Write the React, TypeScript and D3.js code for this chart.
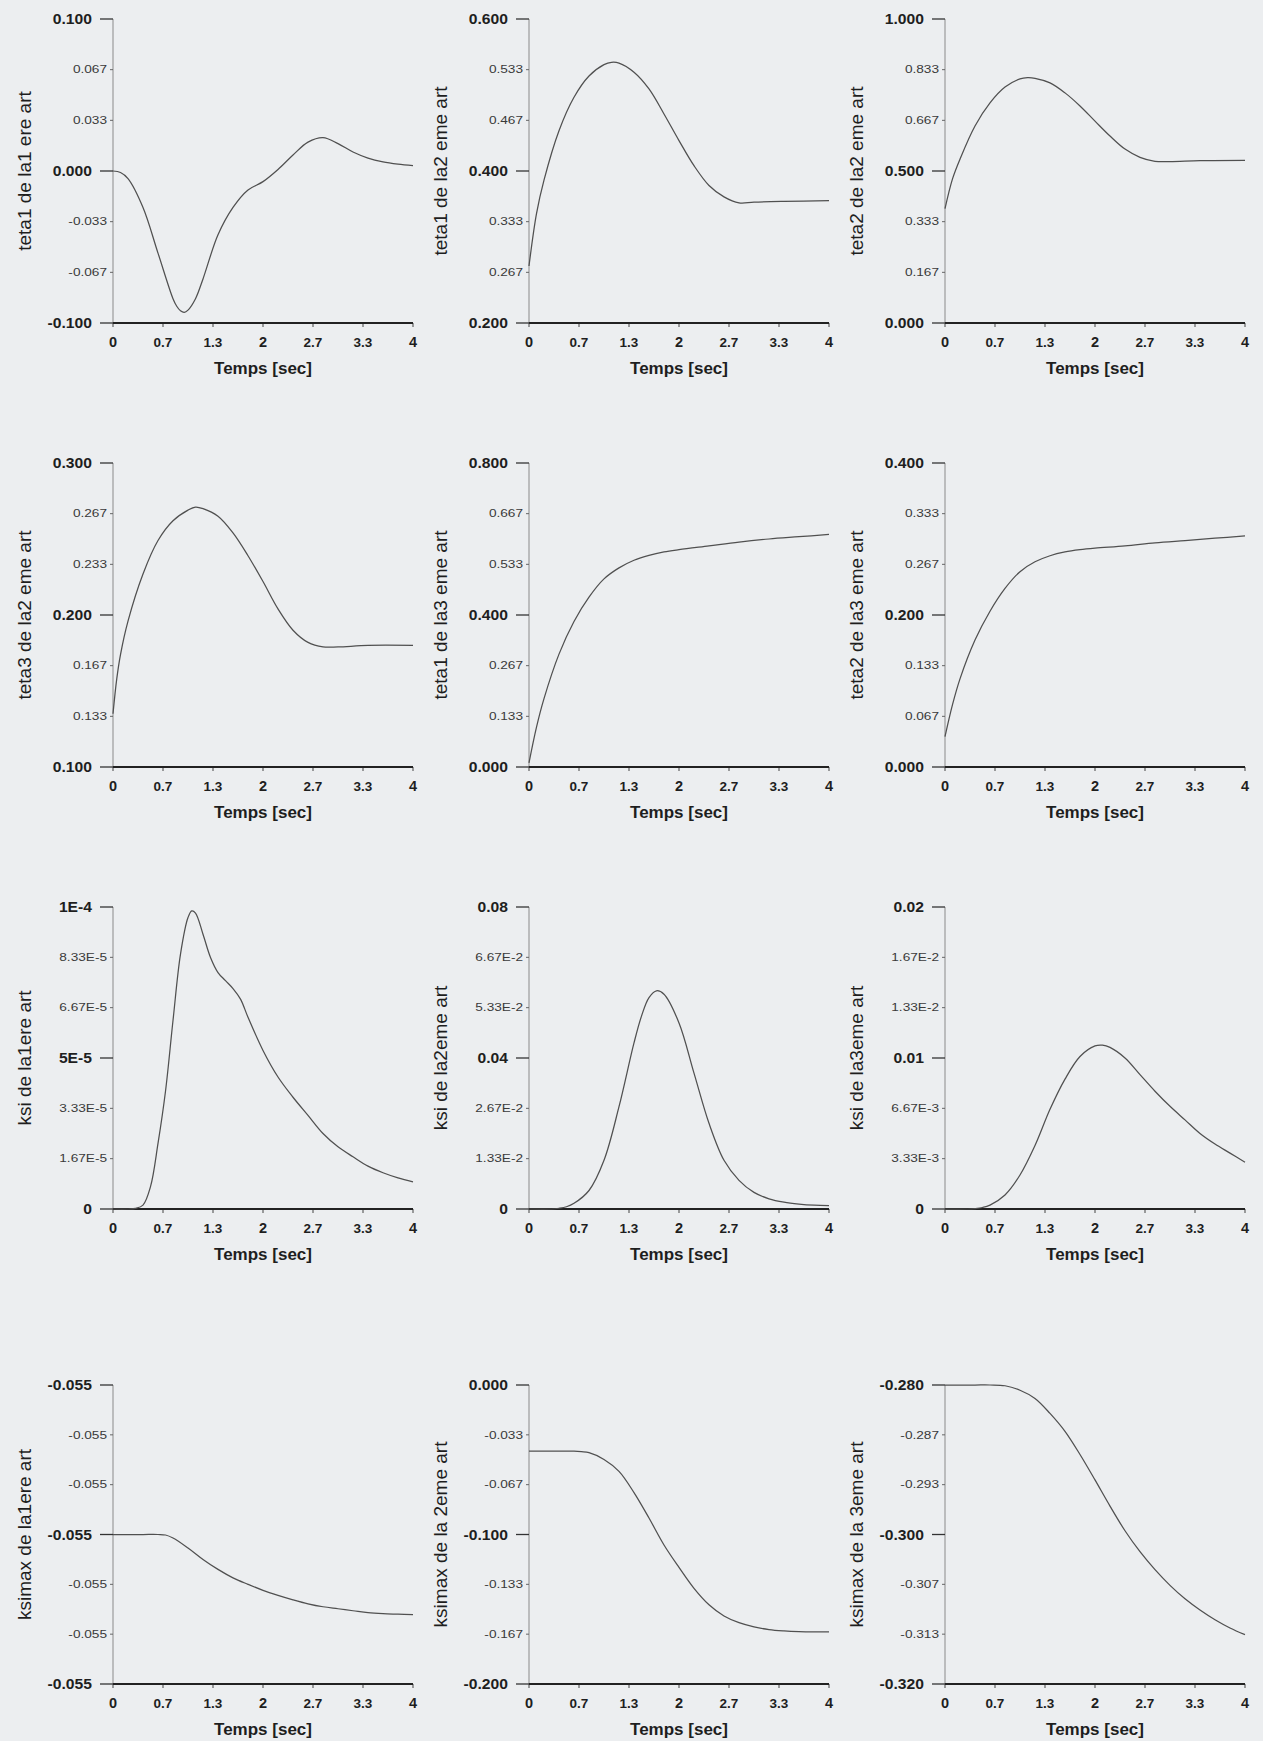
import React from 'react';
import * as d3 from 'd3';

// ---------- shared x axis ----------
const X_DOMAIN = [0, 4];
const X_TICKS = [0, 2 / 3, 4 / 3, 2, 8 / 3, 10 / 3, 4];
const X_TICK_LABELS = ['0', '0.7', '1.3', '2', '2.7', '3.3', '4'];
const X_TITLE = 'Temps [sec]';

// ---------- panel 1 ----------
const title1 = 'teta1 de la1 ere art';
const domain1 = [-0.1, 0.1];
const ticks1 = ['0.100', '0.067', '0.033', '0.000', '-0.033', '-0.067', '-0.100'];
const t1 = [0, 0.1, 0.2, 0.4, 0.6, 0.8, 0.85, 0.9, 0.95, 1.0, 1.1, 1.2, 1.4, 1.6, 1.8, 2.0, 2.2, 2.4, 2.6, 2.8, 3.0, 3.2, 3.4, 3.6, 3.8, 4.0];
const v1 = [0, -0.001, -0.005, -0.024, -0.054, -0.084, -0.089, -0.092, -0.093, -0.0915, -0.084, -0.071, -0.042, -0.024, -0.0125, -0.007, 0.001, 0.0105, 0.019, 0.022, 0.018, 0.0125, 0.0085, 0.006, 0.0045, 0.0035];

// ---------- panel 2 ----------
const title2 = 'teta1 de la2 eme art';
const domain2 = [0.2, 0.6];
const ticks2 = ['0.600', '0.533', '0.467', '0.400', '0.333', '0.267', '0.200'];
const t2 = [0, 0.1, 0.2, 0.4, 0.6, 0.8, 1.0, 1.1, 1.2, 1.4, 1.6, 1.8, 2.0, 2.2, 2.4, 2.6, 2.8, 3.0, 3.4, 4.0];
const v2 = [0.275, 0.344, 0.388, 0.453, 0.497, 0.525, 0.54, 0.543, 0.542, 0.53, 0.508, 0.475, 0.44, 0.407, 0.381, 0.366, 0.358, 0.359, 0.36, 0.361];

// ---------- panel 3 ----------
const title3 = 'teta2 de la2 eme art';
const domain3 = [0, 1];
const ticks3 = ['1.000', '0.833', '0.667', '0.500', '0.333', '0.167', '0.000'];
const t3 = [0, 0.1, 0.2, 0.4, 0.6, 0.8, 1.0, 1.1, 1.2, 1.4, 1.6, 1.8, 2.0, 2.2, 2.4, 2.6, 2.8, 3.0, 3.4, 4.0];
const v3 = [0.376, 0.474, 0.539, 0.648, 0.724, 0.776, 0.803, 0.807, 0.805, 0.79, 0.757, 0.714, 0.664, 0.615, 0.572, 0.545, 0.532, 0.531, 0.534, 0.535];

// ---------- panel 4 ----------
const title4 = 'teta3 de la2 eme art';
const domain4 = [0.1, 0.3];
const ticks4 = ['0.300', '0.267', '0.233', '0.200', '0.167', '0.133', '0.100'];
const t4 = [0, 0.05, 0.1, 0.2, 0.4, 0.6, 0.8, 1.0, 1.1, 1.2, 1.4, 1.6, 1.8, 2.0, 2.2, 2.4, 2.6, 2.8, 3.0, 3.4, 4.0];
const v4 = [0.135, 0.158, 0.174, 0.196, 0.227, 0.249, 0.262, 0.269, 0.271, 0.27, 0.265, 0.254, 0.239, 0.222, 0.204, 0.19, 0.182, 0.179, 0.179, 0.18, 0.18];

// ---------- panel 5 ----------
const title5 = 'teta1 de la3 eme art';
const domain5 = [0, 0.8];
const ticks5 = ['0.800', '0.667', '0.533', '0.400', '0.267', '0.133', '0.000'];
const t5 = [0, 0.1, 0.2, 0.4, 0.6, 0.8, 1.0, 1.2, 1.4, 1.6, 1.8, 2.0, 2.4, 2.8, 3.2, 3.6, 4.0];
const v5 = [0.011, 0.105, 0.18, 0.297, 0.383, 0.447, 0.495, 0.524, 0.544, 0.557, 0.566, 0.572, 0.582, 0.592, 0.6, 0.606, 0.612];

// ---------- panel 6 ----------
const title6 = 'teta2 de la3 eme art';
const domain6 = [0, 0.4];
const ticks6 = ['0.400', '0.333', '0.267', '0.200', '0.133', '0.067', '0.000'];
const t6 = [0, 0.1, 0.2, 0.4, 0.6, 0.8, 1.0, 1.2, 1.4, 1.6, 1.8, 2.0, 2.4, 2.8, 3.2, 3.6, 4.0];
const v6 = [0.04, 0.082, 0.116, 0.167, 0.205, 0.235, 0.257, 0.27, 0.278, 0.283, 0.286, 0.288, 0.291, 0.295, 0.298, 0.301, 0.304];

// ---------- panel 7 ----------
const title7 = 'ksi de la1ere art';
const domain7 = [0, 1e-4];
const ticks7 = ['1E-4', '8.33E-5', '6.67E-5', '5E-5', '3.33E-5', '1.67E-5', '0'];
const t7 = [0, 0.2, 0.3, 0.4, 0.5, 0.6, 0.7, 0.8, 0.9, 1.0, 1.05, 1.1, 1.2, 1.3, 1.4, 1.5, 1.6, 1.7, 1.8, 2.0, 2.2, 2.4, 2.6, 2.8, 3.0, 3.2, 3.4, 3.6, 3.8, 4.0];
const v7 = [0, 0, 0.2e-6, 1.3e-6, 7.4e-6, 2.17e-5, 3.9e-5, 6.24e-5, 8.44e-5, 9.65e-5, 9.87e-5, 9.8e-5, 9.1e-5, 8.33e-5, 7.83e-5, 7.56e-5, 7.3e-5, 6.95e-5, 6.35e-5, 5.25e-5, 4.37e-5, 3.7e-5, 3.1e-5, 2.5e-5, 2.06e-5, 1.73e-5, 1.42e-5, 1.2e-5, 1.03e-5, 9e-6];

// ---------- panel 8 ----------
const title8 = 'ksi de la2eme art';
const domain8 = [0, 0.08];
const ticks8 = ['0.08', '6.67E-2', '5.33E-2', '0.04', '2.67E-2', '1.33E-2', '0'];
const t8 = [0, 0.3, 0.4, 0.5, 0.6, 0.8, 1.0, 1.2, 1.4, 1.5, 1.6, 1.7, 1.8, 2.0, 2.2, 2.4, 2.6, 2.8, 3.0, 3.2, 3.4, 3.6, 3.8, 4.0];
const v8 = [0, 0, 0.0002, 0.0006, 0.0015, 0.0049, 0.0129, 0.0271, 0.044, 0.0511, 0.056, 0.0578, 0.0569, 0.0493, 0.036, 0.0227, 0.0129, 0.0076, 0.0044, 0.0027, 0.0018, 0.0013, 0.001, 0.0009];

// ---------- panel 9 ----------
const title9 = 'ksi de la3eme art';
const domain9 = [0, 0.02];
const ticks9 = ['0.02', '1.67E-2', '1.33E-2', '0.01', '6.67E-3', '3.33E-3', '0'];
const t9 = [0, 0.3, 0.4, 0.5, 0.6, 0.8, 1.0, 1.2, 1.4, 1.6, 1.8, 2.0, 2.1, 2.2, 2.4, 2.6, 2.8, 3.0, 3.2, 3.4, 3.6, 3.8, 4.0];
const v9 = [0, 0, 0.00003, 0.0001, 0.00026, 0.00093, 0.00225, 0.0042, 0.0066, 0.0086, 0.0101, 0.0108, 0.01085, 0.0107, 0.01, 0.0089, 0.0078, 0.0068, 0.0059, 0.005, 0.0043, 0.0037, 0.0031];

// ---------- panel 10 ----------
const title10 = 'ksimax de la1ere art';
const domain10 = [-0.0553, -0.0547];
const ticks10 = ['-0.055', '-0.055', '-0.055', '-0.055', '-0.055', '-0.055', '-0.055'];
const t10 = [0, 0.4, 0.6, 0.7, 0.8, 1.0, 1.2, 1.4, 1.6, 1.8, 2.0, 2.2, 2.4, 2.6, 2.8, 3.0, 3.2, 3.4, 3.6, 3.8, 4.0];
const v10 = [-0.055, -0.055, -0.055, -0.055001, -0.055007, -0.055027, -0.05505, -0.05507, -0.055087, -0.0551, -0.055112, -0.055122, -0.055131, -0.055139, -0.055145, -0.055149, -0.055153, -0.055157, -0.055159, -0.05516, -0.055161];

// ---------- panel 11 ----------
const title11 = 'ksimax de la 2eme art';
const domain11 = [-0.2, 0];
const ticks11 = ['0.000', '-0.033', '-0.067', '-0.100', '-0.133', '-0.167', '-0.200'];
const t11 = [0, 0.4, 0.6, 0.7, 0.8, 1.0, 1.2, 1.4, 1.6, 1.8, 2.0, 2.2, 2.4, 2.6, 2.8, 3.0, 3.2, 3.4, 3.6, 3.8, 4.0];
const v11 = [-0.0442, -0.0442, -0.0442, -0.0446, -0.0453, -0.0498, -0.0578, -0.072, -0.089, -0.107, -0.122, -0.136, -0.147, -0.1545, -0.159, -0.1618, -0.1636, -0.1645, -0.165, -0.1652, -0.1652];

// ---------- panel 12 ----------
const title12 = 'ksimax de la 3eme art';
const domain12 = [-0.32, -0.28];
const ticks12 = ['-0.280', '-0.287', '-0.293', '-0.300', '-0.307', '-0.313', '-0.320'];
const t12 = [0, 0.4, 0.6, 0.8, 1.0, 1.2, 1.4, 1.6, 1.8, 2.0, 2.2, 2.4, 2.6, 2.8, 3.0, 3.2, 3.4, 3.6, 3.8, 4.0];
const v12 = [-0.28, -0.28, -0.28, -0.2801, -0.2807, -0.2818, -0.2838, -0.2862, -0.2893, -0.2927, -0.2962, -0.2995, -0.3023, -0.3047, -0.3068, -0.3086, -0.3101, -0.3114, -0.3125, -0.3134];

const PANELS = [
  { title: title1, domain: domain1, ticks: ticks1, t: t1, v: v1 },
  { title: title2, domain: domain2, ticks: ticks2, t: t2, v: v2 },
  { title: title3, domain: domain3, ticks: ticks3, t: t3, v: v3 },
  { title: title4, domain: domain4, ticks: ticks4, t: t4, v: v4 },
  { title: title5, domain: domain5, ticks: ticks5, t: t5, v: v5 },
  { title: title6, domain: domain6, ticks: ticks6, t: t6, v: v6 },
  { title: title7, domain: domain7, ticks: ticks7, t: t7, v: v7 },
  { title: title8, domain: domain8, ticks: ticks8, t: t8, v: v8 },
  { title: title9, domain: domain9, ticks: ticks9, t: t9, v: v9 },
  { title: title10, domain: domain10, ticks: ticks10, t: t10, v: v10 },
  { title: title11, domain: domain11, ticks: ticks11, t: t11, v: v11 },
  { title: title12, domain: domain12, ticks: ticks12, t: t12, v: v12 },
];

// ---------- layout ----------
const COL_LEFT = [113, 529, 945];
const PLOT_W = 300;
const ROW_TOP = [19, 463, 907, 1385];
const ROW_H = [304, 304, 302, 299];
const FONT = "'Liberation Sans', Arial, Helvetica, sans-serif";

function Panel({ p, left, top, w, h }: any) {
  const x = d3.scaleLinear().domain(X_DOMAIN).range([left, left + w]);
  const y = d3.scaleLinear().domain(p.domain).range([top + h, top]);
  const pts = p.t.map((t: number, i: number) => [t, p.v[i]] as [number, number]);
  const line = d3
    .line<[number, number]>()
    .x((d) => x(d[0]))
    .y((d) => y(d[1]))
    .curve(d3.curveCatmullRom.alpha(0.5));
  const [lo, hi] = p.domain;
  const yTickVals = d3.range(7).map((i) => hi - (i * (hi - lo)) / 6);
  const bottom = top + h;
  return (
    <g>
      <line x1={left} x2={left} y1={top} y2={bottom} stroke="#8a8a8a" strokeWidth={1} />
      {yTickVals.map((v, i) => {
        const major = i % 3 === 0;
        const yy = y(v);
        return (
          <g key={i}>
            <line
              x1={left - (major ? 13 : 3)}
              x2={left}
              y1={yy}
              y2={yy}
              stroke={major ? '#333' : '#666'}
              strokeWidth={major ? 1.3 : 1}
            />
            <text
              transform={`translate(${left - (major ? 21 : 6)},${yy}) scale(${major ? 1.12 : 1.3},1)`}
              textAnchor="end"
              dy="0.36em"
              fontSize={major ? 14 : 10.5}
              fontWeight={major ? 'bold' : 'normal'}
              fill={major ? '#1e1e1e' : '#3a3a3a'}
            >
              {p.ticks[i]}
            </text>
          </g>
        );
      })}
      {X_TICKS.map((t, i) => (
        <g key={i}>
          <line x1={x(t)} x2={x(t)} y1={bottom} y2={bottom + 4} stroke="#444" strokeWidth={1} />
          <text
            x={x(t)}
            y={bottom + 24}
            textAnchor="middle"
            fontSize={i % 3 === 0 ? 14.5 : 13.5}
            fontWeight="bold"
            fill="#1e1e1e"
          >
            {X_TICK_LABELS[i]}
          </text>
        </g>
      ))}
      <line x1={left} x2={left + w} y1={bottom} y2={bottom} stroke="#222" strokeWidth={2} />
      <text x={left + w / 2} y={bottom + 51} textAnchor="middle" fontSize={17} fontWeight="bold" fill="#1e1e1e">
        {X_TITLE}
      </text>
      <text
        transform={`translate(${left - 82},${top + h / 2}) rotate(-90)`}
        textAnchor="middle"
        fontSize={19}
        fill="#1e1e1e"
      >
        {p.title}
      </text>
      <path d={line(pts) || ''} fill="none" stroke="#505050" strokeWidth={1.25} />
    </g>
  );
}

export default function App() {
  return (
    <svg
      width={1263}
      height={1741}
      style={{ position: 'absolute', left: 0, top: 0, background: '#eceef0' }}
      fontFamily={FONT}
    >
      <rect x={0} y={0} width={1263} height={1741} fill="#eceef0" />
      {PANELS.map((p, i) => (
        <Panel
          key={i}
          p={p}
          left={COL_LEFT[i % 3]}
          top={ROW_TOP[Math.floor(i / 3)]}
          w={PLOT_W}
          h={ROW_H[Math.floor(i / 3)]}
        />
      ))}
    </svg>
  );
}
